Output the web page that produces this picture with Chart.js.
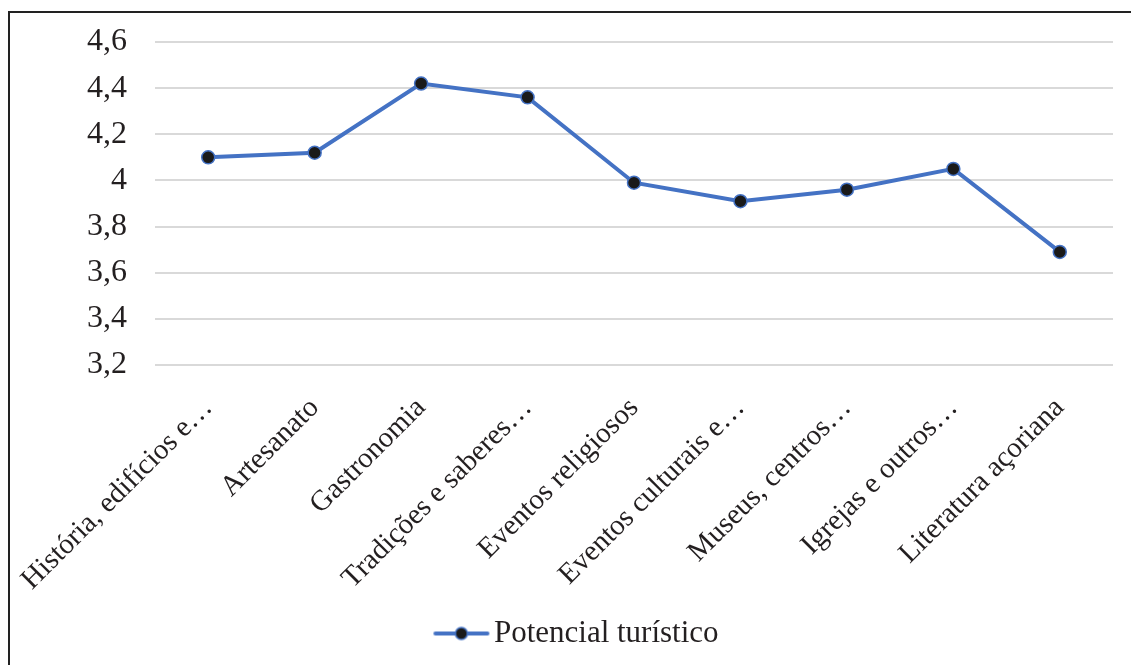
<!DOCTYPE html>
<html>
<head>
<meta charset="utf-8">
<script src="https://cdn.jsdelivr.net/npm/chart.js@4/dist/chart.umd.min.js"></script>
<style>
  html, body { margin: 0; padding: 0; background: #fff; }
  body { width: 1131px; height: 665px; overflow: hidden; position: relative; }
  #frame { position: absolute; left: 8px; top: 11px; width: 1140px; height: 670px; border: 2px solid #222; box-sizing: border-box; }
  #wrap { position: absolute; left: 10px; top: 13px; width: 1121px; height: 652px; }
</style>
</head>
<body>
<div id="frame"></div>
<div id="wrap"><canvas id="chart"></canvas></div>
<script>
const categories = [
  'História, edifícios e…',
  'Artesanato',
  'Gastronomia',
  'Tradições e saberes…',
  'Eventos religiosos',
  'Eventos culturais e…',
  'Museus, centros…',
  'Igrejas e outros…',
  'Literatura açoriana'
];
const potencial = [4.10, 4.12, 4.42, 4.36, 3.99, 3.91, 3.96, 4.05, 3.69];
const seriesName = 'Potencial turístico';
const yTicks = [3.2, 3.4, 3.6, 3.8, 4, 4.2, 4.4, 4.6];

const lineColor = '#4472C4';
const dotColor = '#1a1a1a';
const textColor = '#231f20';
const fontFamily = '"Liberation Serif", "Times New Roman", serif';

// legend marker: line with a dot (drawn on the right part so it sits next to the text)
const marker = document.createElement('canvas');
marker.width = 100; marker.height = 20;
(function () {
  const c = marker.getContext('2d');
  c.strokeStyle = lineColor; c.lineWidth = 4; c.lineCap = 'round';
  c.beginPath(); c.moveTo(44, 10); c.lineTo(96, 10); c.stroke();
  c.fillStyle = dotColor; c.beginPath(); c.arc(70, 10, 6, 0, Math.PI * 2); c.fill();
  c.strokeStyle = lineColor; c.lineWidth = 1.5; c.stroke();
})();

const noPad = (s) => { s.paddingLeft = 0; s.paddingRight = 0; s.paddingTop = 0; s.paddingBottom = 0; };

const ctx = document.getElementById('chart').getContext('2d');
new Chart(ctx, {
  type: 'line',
  data: {
    labels: categories,
    datasets: [{
      label: seriesName,
      data: potencial,
      borderColor: lineColor,
      borderWidth: 4,
      pointRadius: 6.5,
      pointBackgroundColor: dotColor,
      pointBorderColor: lineColor,
      pointBorderWidth: 1.5,
      pointStyle: 'circle',
      tension: 0
    }]
  },
  options: {
    responsive: true,
    maintainAspectRatio: false,
    animation: false,
    layout: { padding: { top: 29, right: 18, left: 0, bottom: 6 } },
    plugins: {
      tooltip: { enabled: false },
      legend: {
        position: 'bottom',
        labels: {
          color: textColor,
          font: { family: fontFamily, size: 31 },
          usePointStyle: true,
          pointStyleWidth: 74,
          generateLabels: (chart) => chart.data.datasets.map((ds, i) => ({
            text: ds.label,
            pointStyle: marker,
            fontColor: textColor,
            lineWidth: 0,
            datasetIndex: i
          })),
          padding: 8
        }
      }
    },
    scales: {
      x: {
        offset: true,
        grid: { display: false, drawTicks: false },
        border: { display: false },
        ticks: {
          color: textColor,
          font: { family: fontFamily, size: 29 },
          minRotation: 45,
          maxRotation: 45,
          autoSkip: false,
          padding: 26
        },
        afterFit: (s) => { s.height = 245; noPad(s); }
      },
      y: {
        min: 3.2,
        max: 4.6,
        afterBuildTicks: (s) => { s.ticks = yTicks.map(v => ({ value: v })); },
        grid: { color: '#d9d9d9', lineWidth: 2, drawTicks: false },
        border: { display: false },
        ticks: {
          color: textColor,
          font: { family: fontFamily, size: 32 },
          padding: 28,
          callback: (v) => String(Math.round(v * 10) / 10).replace('.', ',')
        },
        afterFit: (s) => { s.width = 145; noPad(s); }
      }
    }
  }
});
</script>
</body>
</html>
